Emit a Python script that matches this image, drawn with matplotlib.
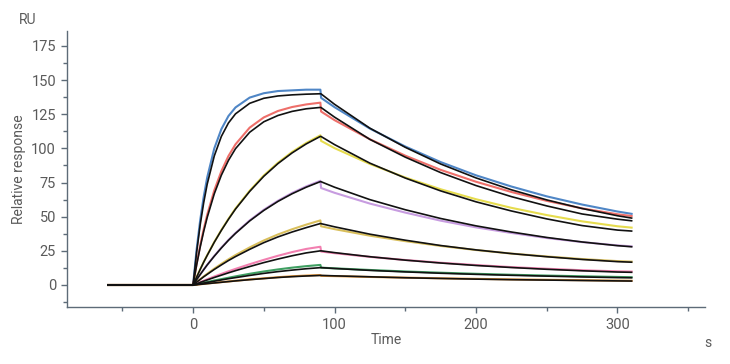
import matplotlib
matplotlib.use('Agg')
from matplotlib import pyplot as plt
from matplotlib.ticker import MultipleLocator

plt.rcParams['font.family'] = ['Roboto', 'DejaVu Sans']

# Zeitachse (s): Basislinie, Assoziation, Dissoziation
time_s = [-60, 0, 2.5, 5, 7.5, 10, 15, 20, 25, 30, 40, 50, 60, 70, 80, 90,
          90.5, 100, 125, 150, 175, 200, 225, 250, 275, 300, 310]

# Messkurven (RU)
blue_data = [0, 0, 25.9, 47.2, 64.5, 78.8, 100, 114.1, 123.7, 130, 137.2, 140.4, 142, 142.5, 143, 143,
             137, 130.2, 114.5, 101.4, 90, 80.3, 72.1, 64.9, 58.9, 53.8, 52.1]
red_data = [0, 0, 15.3, 28.8, 40.8, 51.5, 69.3, 83.3, 94.4, 103, 115.2, 122.7, 127.4, 130.3, 132.2, 133.5,
            127, 120.7, 106.7, 94.7, 84.3, 75.6, 68.1, 61.6, 56.1, 51.8, 50.5]
yellow_data = [0, 0, 5.8, 11.4, 16.8, 21.9, 31.5, 40.3, 48.4, 56, 69, 80.2, 89.5, 97.4, 104, 109.6,
               105.5, 100.2, 88.6, 78.7, 70.1, 62.8, 56.5, 51.2, 46.6, 43, 42]
violet_data = [0, 0, 3.9, 7.7, 11.3, 14.8, 21.3, 27.4, 33, 38.1, 47.3, 55.1, 61.7, 67.4, 72.2, 76.3,
               71, 67.5, 59.6, 53, 47.1, 42.2, 38.1, 34.4, 31.4, 29, 28.3]
khaki_data = [0, 0, 2.2, 4.2, 6.3, 8.2, 12, 15.5, 18.8, 21.9, 27.5, 32.6, 37, 40.8, 44.2, 47.3,
              43, 40.9, 36.1, 32.1, 28.6, 25.6, 23, 20.9, 19, 17.5, 17.1]
pink_data = [0, 0, 0.9, 2.1, 3.1, 4.2, 6.2, 8.1, 10, 11.8, 15.2, 18.4, 21.4, 24.1, 26.4, 28,
             24.5, 23.3, 20.6, 18.3, 16.3, 14.6, 13.1, 11.9, 10.8, 10, 9.8]
green_data = [0, 0, 0.5, 1.1, 1.6, 2.2, 3.3, 4.3, 5.3, 6.3, 8.2, 9.9, 11.4, 12.7, 13.8, 14.7,
              12.7, 12.2, 11, 9.9, 9, 8.2, 7.5, 6.9, 6.4, 5.9, 5.7]
orange_data = [0, 0, 0.2, 0.5, 0.8, 1.1, 1.6, 2.1, 2.6, 3.1, 4.1, 4.9, 5.7, 6.4, 6.9, 7.3,
               6.7, 6.5, 5.9, 5.4, 4.9, 4.5, 4.1, 3.8, 3.5, 3.2, 3.1]

# Fitkurven (RU)
blue_fit = [0, 0, 23.9, 43.8, 60.2, 73.9, 94.5, 108.8, 118.6, 125.3, 133, 136.7, 138.4, 139.2, 139.7, 140,
            139.9, 132.3, 114.8, 100.8, 88.6, 78.4, 69.7, 62.3, 56, 50.7, 49]
red_fit = [0, 0, 14.6, 27.6, 39.2, 49.5, 66.8, 80.4, 91.2, 99.8, 111.8, 119.5, 124.1, 127.1, 129, 130,
           129.9, 122.9, 106.6, 93.6, 82.3, 72.8, 64.7, 57.9, 52, 48.2, 47]
yellow_fit = [0, 0, 5.7, 11.3, 16.7, 21.7, 31.3, 40, 48.1, 55.6, 68.5, 79.6, 88.9, 96.7, 103.3, 108.8,
              108.7, 102.8, 89.2, 78.3, 68.9, 60.9, 54.2, 48.4, 43.5, 40.2, 39.5]
violet_fit = [0, 0, 3.9, 7.6, 11.2, 14.7, 21.1, 27.1, 32.7, 37.8, 46.9, 54.6, 61.2, 66.8, 71.6, 75.7,
              75.6, 71.6, 62.5, 55.1, 48.7, 43.3, 38.8, 34.8, 31.5, 28.8, 28]
khaki_fit = [0, 0, 2.1, 4, 6, 7.8, 11.4, 14.7, 17.9, 20.8, 26.1, 31, 35.2, 38.8, 42, 45,
             44.9, 42.6, 37.2, 32.8, 28.9, 25.7, 23, 20.7, 18.7, 17.1, 16.7]
pink_fit = [0, 0, 0.8, 1.9, 2.8, 3.7, 5.5, 7.2, 8.9, 10.5, 13.5, 16.4, 19, 21.4, 23.5, 25,
            25, 23.7, 20.7, 18.2, 16.1, 14.3, 12.8, 11.5, 10.4, 9.5, 9.3]
green_fit = [0, 0, 0.4, 0.9, 1.4, 1.9, 2.8, 3.7, 4.6, 5.4, 7, 8.5, 9.8, 10.9, 11.9, 12.7,
             12.7, 12.1, 10.7, 9.6, 8.6, 7.8, 7.1, 6.5, 5.9, 5.4, 5.3]
orange_fit = [0, 0, 0.2, 0.5, 0.7, 1, 1.5, 2, 2.5, 3, 3.9, 4.7, 5.5, 6.1, 6.6, 7,
              7, 6.7, 6, 5.3, 4.8, 4.3, 3.9, 3.6, 3.3, 3, 2.9]

messKurven = [(blue_data, '#4f86c6'), (red_data, '#ee6f6a'), (yellow_data, '#e6dc4e'),
              (violet_data, '#c79ce0'), (khaki_data, '#d9bf5c'), (pink_data, '#f27fb0'),
              (green_data, '#3f9f62'), (orange_data, '#e39235')]
fitKurven = [blue_fit, red_fit, yellow_fit, violet_fit, khaki_fit, pink_fit, green_fit, orange_fit]

fig = plt.figure(figsize=(7.3, 3.64), dpi=100)
ax1 = fig.add_axes([0.092, 0.157, 0.874, 0.758])

for werte, farbe in messKurven:
    ax1.plot(time_s, werte, lw=1.5, color=farbe)
for werte in fitKurven:
    ax1.plot(time_s, werte, lw=1.2, color='#111111')

# Einstellungen für x/y-Achsen
achsFarbe = '#5d6b78'
textFarbe = '#5a5a5a'
ax1.set_xlim(-89, 362)
ax1.set_ylim(-16, 186)
ax1.xaxis.set_major_locator(MultipleLocator(100))
ax1.xaxis.set_minor_locator(MultipleLocator(50))
ax1.yaxis.set_major_locator(MultipleLocator(25))
ax1.yaxis.set_minor_locator(MultipleLocator(12.5))
for s in ['top', 'right']:
    ax1.spines[s].set_visible(False)
for s in ['left', 'bottom']:
    ax1.spines[s].set_color(achsFarbe)
    ax1.spines[s].set_linewidth(1.0)
ax1.tick_params(which='major', length=4.5, width=1, color=achsFarbe, labelcolor=textFarbe, labelsize=10.5)
ax1.tick_params(which='minor', length=3, width=1, color=achsFarbe)

ax1.set_xlabel('Time', color=textFarbe, fontsize=10, labelpad=1)
ax1.set_ylabel('Relative response', color=textFarbe, fontsize=10, labelpad=4)
fig.text(28 / 730, 1 - 20 / 364, 'RU', color=textFarbe, fontsize=10, ha='center', va='center')
fig.text(708 / 730, 1 - 343 / 364, 's', color=textFarbe, fontsize=10, ha='center', va='center')

plt.savefig('out.png', dpi=100)
